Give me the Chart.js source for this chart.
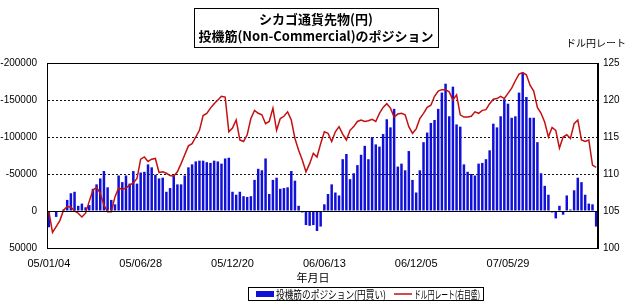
<!DOCTYPE html>
<html>
<head>
<meta charset="utf-8">
<script src="https://cdn.jsdelivr.net/npm/chart.js@4"></script>
<style>
  body { margin: 0; background: #fff; }
  canvas { display: block; }
</style>
</head>
<body>
<canvas id="cotChart" width="625" height="303"></canvas>
<script>
// 週次の日付 (05/01/04 - 07/11/13)
const categories = (
  '05/01/04 05/01/11 05/01/18 05/01/25 05/02/01 05/02/08 05/02/15 05/02/22 05/03/01 05/03/08 ' +
  '05/03/15 05/03/22 05/03/29 05/04/05 05/04/12 05/04/19 05/04/26 05/05/03 05/05/10 05/05/17 ' +
  '05/05/24 05/05/31 05/06/07 05/06/14 05/06/21 05/06/28 05/07/05 05/07/12 05/07/19 05/07/26 ' +
  '05/08/02 05/08/09 05/08/16 05/08/23 05/08/30 05/09/06 05/09/13 05/09/20 05/09/27 05/10/04 ' +
  '05/10/11 05/10/18 05/10/25 05/11/01 05/11/08 05/11/15 05/11/22 05/11/29 05/12/06 05/12/13 ' +
  '05/12/20 05/12/27 06/01/03 06/01/10 06/01/17 06/01/24 06/01/31 06/02/07 06/02/14 06/02/21 ' +
  '06/02/28 06/03/07 06/03/14 06/03/21 06/03/28 06/04/04 06/04/11 06/04/18 06/04/25 06/05/02 ' +
  '06/05/09 06/05/16 06/05/23 06/05/30 06/06/06 06/06/13 06/06/20 06/06/27 06/07/04 06/07/11 ' +
  '06/07/18 06/07/25 06/08/01 06/08/08 06/08/15 06/08/22 06/08/29 06/09/05 06/09/12 06/09/19 ' +
  '06/09/26 06/10/03 06/10/10 06/10/17 06/10/24 06/10/31 06/11/07 06/11/14 06/11/21 06/11/28 ' +
  '06/12/05 06/12/12 06/12/19 06/12/26 07/01/02 07/01/09 07/01/16 07/01/23 07/01/30 07/02/06 ' +
  '07/02/13 07/02/20 07/02/27 07/03/06 07/03/13 07/03/20 07/03/27 07/04/03 07/04/10 07/04/17 ' +
  '07/04/24 07/05/01 07/05/08 07/05/15 07/05/22 07/05/29 07/06/05 07/06/12 07/06/19 07/06/26 ' +
  '07/07/03 07/07/10 07/07/17 07/07/24 07/07/31 07/08/07 07/08/14 07/08/21 07/08/28 07/09/04 ' +
  '07/09/11 07/09/18 07/09/25 07/10/02 07/10/09 07/10/16 07/10/23 07/10/30 07/11/06 07/11/13'
).split(' ');

// x軸に表示する日付
const tickLabels = ['05/01/04', '05/06/28', '05/12/20', '06/06/13', '06/12/05', '07/05/29'];

// 投機筋のポジション (枚, 左目盛は反転)
const positions = [
  22000, 0, 8000, 0, -2000, -15000, -24000, -26000, -7000, -10000,
  -5000, -8000, -30000, -36000, -44000, -54000, -32000, -15000, -9000, -48000,
  -39000, -48000, -37000, -54000, -37000, -52000, -53000, -63000, -59000, -49000,
  -44000, -45000, -26000, -31000, -48000, -36000, -36000, -48000, -59000, -63000,
  -67000, -68000, -68000, -66000, -65000, -68000, -67000, -64000, -71000, -72000,
  -26000, -22000, -26000, -20000, -19000, -20000, -42000, -57000, -55000, -71000,
  -23000, -42000, -45000, -30000, -31000, -32000, -54000, -41000, -7000, 2000,
  19000, 20000, 19000, 27000, 21000, -9000, -23000, -36000, -25000, -21000,
  -70000, -77000, -43000, -51000, -62000, -76000, -88000, -70000, -100000, -90000,
  -87000, -104000, -124000, -113000, -138000, -60000, -64000, -55000, -81000, -42000,
  -25000, -55000, -93000, -106000, -119000, -123000, -138000, -160000, -172000, -128000,
  -168000, -117000, -114000, -63000, -53000, -50000, -48000, -64000, -65000, -70000,
  -82000, -118000, -113000, -128000, -151000, -145000, -126000, -128000, -160000, -187000,
  -154000, -126000, -126000, -93000, -51000, -34000, -22000, 2000, 10000, -7000,
  5000, -21000, -2000, -28000, -45000, -39000, -22000, -10000, -9000, 21000
];

// ドル円レート (右目盛)
const usdJpy = [
  104.9, 102.1, 102.9, 103.7, 105.1, 105.6, 105.5, 105.0, 104.7, 104.2,
  104.7, 106.3, 107.8, 108.2, 107.4, 105.8, 104.9, 104.9, 106.9, 108.1,
  107.9, 108.1, 108.5, 108.8, 109.4, 112.0, 112.3, 111.7, 112.0, 112.1,
  110.2, 110.3, 110.1, 109.8, 109.7, 110.3, 111.4, 112.6, 113.8, 114.1,
  115.0, 115.9, 117.9, 118.2, 118.9, 119.5, 120.0, 120.5, 120.4, 115.7,
  116.2, 117.3, 114.6, 114.4, 115.3, 117.5, 118.6, 118.2, 118.0, 116.8,
  117.1, 118.9, 115.9, 117.5, 117.8, 118.4, 117.3, 114.8, 113.2, 111.9,
  110.3, 111.4, 112.8, 112.3, 114.1, 115.7, 115.5, 114.4, 115.7, 116.4,
  115.4, 114.6, 115.9, 116.4, 117.1, 117.3, 117.1, 117.2, 117.4, 117.1,
  118.2, 119.0, 119.5, 118.9, 117.7, 118.1, 118.2, 118.0, 116.4, 115.5,
  116.1, 117.5, 118.2, 119.0, 119.3, 120.5, 121.2, 121.4, 121.4, 121.1,
  120.0, 120.7, 118.0, 117.7, 117.7, 117.8, 118.4, 118.2, 118.6, 118.7,
  119.5, 120.1, 120.2, 120.5, 120.2, 120.9, 121.6, 122.6, 123.5, 123.7,
  123.4, 122.0, 121.2, 119.0, 118.2, 117.0, 115.0, 116.3, 115.9, 113.5,
  115.0, 115.3, 114.8, 116.8, 117.3, 114.6, 114.4, 114.6, 111.2, 110.9
];

const BLUE = '#1010d8';
const RED = '#c41010';
const numFont = { family: 'Liberation Sans', size: 10 };
const jpFont = '"Noto Sans CJK JP", sans-serif';

// タイトル枠・凡例・枠線を描く
const decor = {
  id: 'decor',
  afterDraw(chart) {
    const ctx = chart.ctx;
    const a = chart.chartArea;
    ctx.save();
    // プロット枠
    ctx.strokeStyle = '#000';
    ctx.lineWidth = 1;
    ctx.strokeRect(a.left + 0.5, a.top + 0.5, a.right - a.left - 1, a.bottom - a.top);

    // 0のライン (実線)
    const y0 = Math.round(chart.scales.y.getPixelForValue(0)) + 0.5;
    ctx.beginPath();
    ctx.moveTo(a.left, y0);
    ctx.lineTo(a.right, y0);
    ctx.stroke();

    // タイトル
    ctx.strokeRect(194.5, 8.5, 244, 39);
    ctx.fillStyle = '#000';
    ctx.textAlign = 'center';
    ctx.textBaseline = 'middle';
    ctx.font = 'bold 13px ' + jpFont;
    ctx.fillText('シカゴ通貨先物(円)', 316, 19);
    ctx.fillText('投機筋(Non-Commercial)のポジション', 316, 36, 238);

    // 右軸タイトル
    ctx.font = '10px ' + jpFont;
    ctx.textAlign = 'left';
    ctx.fillText('ドル円レート', 566, 43);

    // x軸タイトル
    ctx.font = '11px ' + jpFont;
    ctx.textAlign = 'center';
    ctx.fillText('年月日', 313, 278);

    // 凡例
    ctx.strokeRect(248.5, 287.5, 235, 13);
    ctx.fillStyle = BLUE;
    ctx.fillRect(256, 291, 18, 6);
    ctx.strokeStyle = RED;
    ctx.lineWidth = 1.5;
    ctx.beginPath();
    ctx.moveTo(394, 294);
    ctx.lineTo(412, 294);
    ctx.stroke();
    ctx.fillStyle = '#000';
    ctx.font = '11px ' + jpFont;
    ctx.textAlign = 'left';
    ctx.fillText('投機筋のポジション(円買い)', 276, 294.5, 110);
    ctx.fillText('ドル円レート(右目盛)', 414, 294.5, 66);
    ctx.restore();
  }
};

const ctxMain = document.getElementById('cotChart').getContext('2d');
new Chart(ctxMain, {
  type: 'bar',
  data: {
    labels: categories,
    datasets: [
      {
        type: 'line',
        label: 'ドル円レート(右目盛)',
        data: usdJpy,
        yAxisID: 'y1',
        borderColor: RED,
        borderWidth: 1.5,
        pointRadius: 0,
        tension: 0,
        order: 0
      },
      {
        type: 'bar',
        label: '投機筋のポジション(円買い)',
        data: positions,
        yAxisID: 'y',
        backgroundColor: BLUE,
        barPercentage: 0.68,
        categoryPercentage: 1.0,
        order: 1
      }
    ]
  },
  options: {
    responsive: false,
    animation: false,
    layout: { padding: { top: 63, left: 0, right: 0, bottom: 0 } },
    plugins: { legend: { display: false }, tooltip: { enabled: false } },
    scales: {
      x: {
        offset: true,
        grid: { display: false },
        border: { display: false },
        ticks: {
          autoSkip: false,
          maxRotation: 0,
          padding: 1,
          color: '#000',
          font: { family: 'Liberation Sans', size: 11 },
          callback: (v, i) => tickLabels.includes(categories[i]) ? categories[i] : ''
        },
        afterFit: s => { s.height = 55; }
      },
      y: {
        position: 'left',
        reverse: true,
        min: -200000,
        max: 50000,
        ticks: { stepSize: 50000, padding: 10, color: '#000', font: numFont, callback: v => String(v) },
        grid: {
          drawTicks: false,
          color: c => (c.tick.value === -200000 || c.tick.value === 50000) ? 'rgba(0,0,0,0)' : '#111'
        },
        border: { display: true, color: '#000', dash: [2, 2] },
        afterFit: s => { s.width = 47; }
      },
      y1: {
        position: 'right',
        min: 100,
        max: 125,
        ticks: { stepSize: 5, padding: 5, color: '#000', font: numFont },
        grid: { display: false, drawTicks: false },
        border: { display: true, color: '#000' },
        afterFit: s => { s.width = 27; }
      }
    }
  },
  plugins: [decor]
});
</script>
</body>
</html>
